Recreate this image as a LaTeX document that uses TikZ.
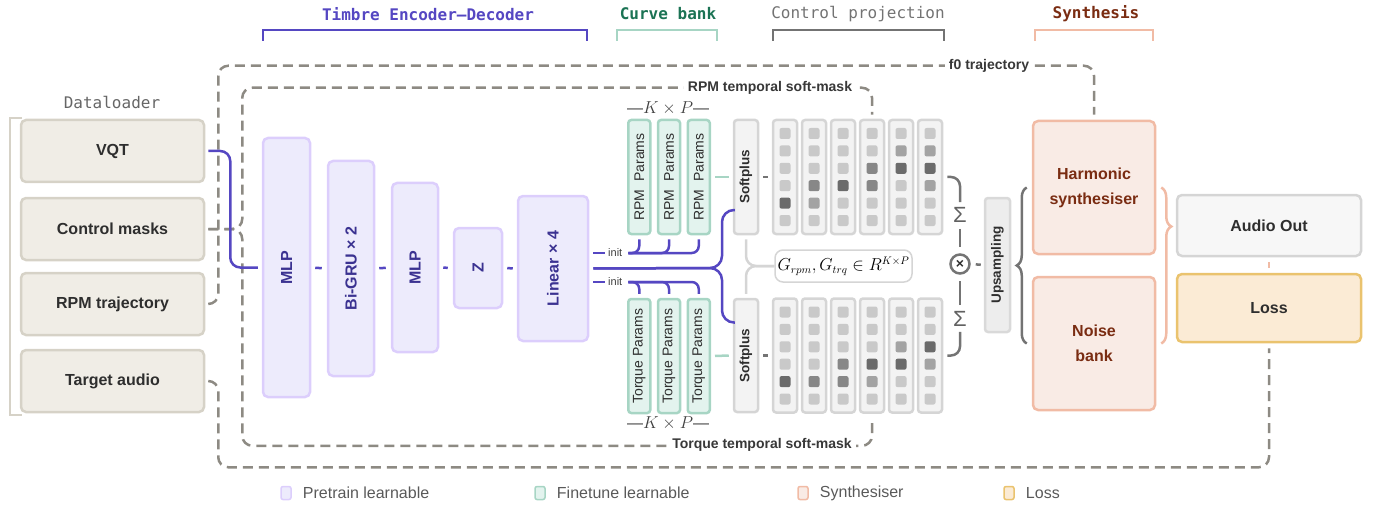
\documentclass[tikz,border=0pt]{standalone}
\usepackage{fontspec}
\setmainfont{Liberation Sans}
\setmonofont{DejaVu Sans Mono}
\usetikzlibrary{positioning,calc,decorations.pathreplacing}

\definecolor{dlfill}{HTML}{F0EDE6}
\definecolor{dldraw}{HTML}{D6D2C7}
\definecolor{pfill}{HTML}{EDEBFC}
\definecolor{pdraw}{HTML}{DCCEFC}
\definecolor{ptext}{HTML}{3B3291}
\definecolor{pcol}{HTML}{5547C2}
\definecolor{gfill}{HTML}{E3F3EE}
\definecolor{gdraw}{HTML}{A7D5C4}
\definecolor{gtext}{HTML}{1B7354}
\definecolor{cfill}{HTML}{F3F3F3}
\definecolor{cdraw}{HTML}{D5D5D5}
\definecolor{cdark}{HTML}{747474}
\definecolor{sfill}{HTML}{F9EBE5}
\definecolor{sdraw}{HTML}{F1BBA5}
\definecolor{stext}{HTML}{7A2C12}
\definecolor{lfill}{HTML}{FBEBD5}
\definecolor{ldraw}{HTML}{EAC36E}
\definecolor{dashgray}{HTML}{8D8A83}
\definecolor{txtdark}{HTML}{2E2E2E}
\colorlet{sq0}{black!21}
\colorlet{sq1}{black!36}
\colorlet{sq2}{black!47}
\colorlet{sq3}{black!58}

\newcommand\boxfont{\fontsize{16}{19}\selectfont\bfseries}
\newcommand\synfont{\fontsize{16}{25}\selectfont\bfseries}
\newcommand\parfont{\fontsize{14}{17}\selectfont}
\newcommand\spfont{\fontsize{13.5}{16}\selectfont\bfseries}
\newcommand\lblfont{\fontsize{14}{17}\selectfont\bfseries}
\newcommand\hdrfont{\fontsize{16}{19}\selectfont\ttfamily\bfseries}
\newcommand\legfont{\fontsize{16}{19}\selectfont}

\tikzset{
  blk/.style={draw, rounded corners=5pt, line width=2.5pt, inner sep=0pt},
  dlbox/.style={blk, fill=dlfill, draw=dldraw, minimum width=183pt, minimum height=62pt, font=\boxfont, text=txtdark},
  pbox/.style={blk, fill=pfill, draw=pdraw, label={[rotate=90, font=\boxfont, text=ptext]center:#1}},
  gbox/.style={blk, fill=gfill, draw=gdraw, rounded corners=3pt, minimum width=22pt, minimum height=114pt,
    label={[rotate=90, font=\parfont, text=txtdark]center:#1}},
  cbox/.style={blk, fill=cfill, draw=cdraw, rounded corners=3pt, minimum width=24pt, minimum height=114pt},
  spbox/.style={cbox, label={[rotate=90, font=\spfont, text=txtdark]center:#1}},
  sbox/.style={blk, fill=sfill, draw=sdraw, minimum width=122pt, minimum height=133pt, font=\synfont, text=stext, align=center},
  sumsign/.style={text=black!62, font=\fontsize{22}{22}\selectfont, inner sep=0pt},
  pline/.style={draw=pcol, line width=2.5pt},
  gline/.style={draw=gdraw, line width=2.5pt},
  cline/.style={draw=cdark, line width=2.5pt},
  lgline/.style={draw=cdraw, line width=2.5pt},
  dline/.style={draw=dashgray, line width=2.5pt, dash pattern=on 10pt off 6pt},
  dlabel/.style={fill=white, inner sep=4pt, font=\lblfont, text=black!78},
  brk/.style={line width=2.5pt},
  legbox/.style={draw, line width=1.5pt, rounded corners=2pt, minimum width=10pt, minimum height=13pt, inner sep=0pt},
  legtxt/.style={font=\legfont, text=black!65, inner sep=0pt}
}

\begin{document}
\begin{tikzpicture}[x=1pt, y=-1pt]
  \useasboundingbox (0,0) rectangle (1374,508);

  % headers
  \node[font=\hdrfont, text=pcol] (hte) at (428,14) {Timbre Encoder–Decoder};
  \node[font=\hdrfont, text=gtext] (hcb) at (668,14) {Curve bank};
  \node[font=\fontsize{16}{19}\selectfont\ttfamily, text=black!55] (hcp) at (858,14) {Control projection};
  \node[font=\hdrfont, text=stext] (hsy) at (1096,14) {Synthesis};
  \draw[brk, pcol] (263,41) -- (263,30) -- (587,30) -- (587,41);
  \draw[brk, gdraw] (617,41) -- (617,30) -- (717,30) -- (717,41);
  \draw[brk, black!55] (773,41) -- (773,30) -- (944,30) -- (944,41);
  \draw[brk, sdraw] (1035,41) -- (1035,30) -- (1153,30) -- (1153,41);

  % dataloader
  \node[font=\fontsize{16}{19}\selectfont\ttfamily, text=black!60] (dlhead) at (112,102) {Dataloader};
  \draw[brk, dldraw] (22,118) -- (10,118) -- (10,415) -- (22,415);
  \node[dlbox] (vqt) at (112.5,151) {VQT};
  \node[dlbox] (ctrlm) at (112.5,229) {Control masks};
  \node[dlbox] (rpmtraj) at (112.5,304) {RPM trajectory};
  \node[dlbox] (tgt) at (112.5,381) {Target audio};

  % encoder-decoder
  \node[pbox=MLP, minimum width=47pt, minimum height=259pt] (mlp1) at (286.5,267.5) {};
  \node[pbox={Bi-GRU × 2}, minimum width=46pt, minimum height=215pt] (bigru) at (351,268.5) {};
  \node[pbox=MLP, minimum width=46pt, minimum height=169pt] (mlp2) at (415,267.5) {};
  \node[pbox=Z, minimum width=48pt, minimum height=80pt] (zlat) at (478,268) {};
  \node[pbox={Linear × 4}, minimum width=70pt, minimum height=145pt] (lin) at (553,268.5) {};

  % curve bank
  \foreach \k in {1,2,3} {
    \node[gbox={RPM\ \ Params}] (rpm\k) at ({609.5+29.75*\k},177) {};
    \node[gbox={Torque Params}] (trq\k) at ({609.5+29.75*\k},356) {};
  }
  \node[font=\fontsize{16}{19}\selectfont, text=black!75] (kpu) at (668,108) {\textemdash$K\times P$\textemdash};
  \node[font=\fontsize{16}{19}\selectfont, text=black!75] (kpl) at (668,423) {\textemdash$K\times P$\textemdash};

  % control projection
  \node[spbox=Softplus] (sp1) at (746,177) {};
  \node[spbox=Softplus, minimum height=113pt] (sp2) at (746,355.5) {};
  \foreach \i in {1,...,6} {
    \node[cbox] (u\i) at ({756+29*\i},177) {};
    \node[cbox] (l\i) at ({756+29*\i},355.5) {};
  }
  \foreach \lst [count=\i] in {{0,0,0,0,3,0},{0,0,0,2,1,0},{0,0,0,3,0,0},{0,0,2,2,0,0},{0,1,3,0,0,0},{0,1,3,1,0,0}}
    \foreach \s [count=\j] in \lst
      \fill[sq\s, rounded corners=2pt] ($(u\i)+(-5.5,{17.4*\j-66.4})$) rectangle ++(11,11);
  \foreach \lst [count=\i] in {{0,0,0,0,3,0},{0,0,0,0,2,0},{0,0,0,2,2,0},{0,0,0,3,1,0},{0,0,1,3,0,0},{0,0,3,1,0,0}}
    \foreach \s [count=\j] in \lst
      \fill[sq\s, rounded corners=2pt] ($(l\i)+(-5.5,{17.4*\j-66.4})$) rectangle ++(11,11);
  \node[draw=cdraw, line width=1.5pt, rounded corners=8pt, fill=white, minimum width=137pt, minimum height=32pt,
    inner sep=0pt, font=\fontsize{16}{19}\selectfont] (gmat) at (843.5,266) {$G_{rpm}, G_{trq} \in R^{K\times P}$};
  \node[sumsign] (sumu) at (960,215) {Σ};
  \node[sumsign] (suml) at (960,319) {Σ};
  \node[circle, draw=cdark, line width=2.5pt, minimum size=19pt, inner sep=0pt,
    font=\fontsize{14}{14}\selectfont\bfseries, text=txtdark] (mul) at (960,264) {×};

  % synthesis
  \node[spbox=Upsampling, fill=black!7, draw=black!15, minimum width=25pt, minimum height=134pt] (ups) at (997.5,265) {};
  \node[sbox] (harm) at (1094,187.5) {Harmonic\\synthesiser};
  \node[sbox] (noise) at (1094,343.5) {Noise\\bank};
  \node[blk, fill=black!3, draw=cdraw, minimum width=184pt, minimum height=61pt, font=\boxfont, text=txtdark] (audio) at (1269,225.5) {Audio Out};
  \node[blk, fill=lfill, draw=ldraw, minimum width=184pt, minimum height=68pt, font=\boxfont, text=txtdark] (loss) at (1269,308) {Loss};

  % dashed routes
  \draw[dline, rounded corners=10pt, shorten <=3pt, shorten >=5pt] (rpmtraj.east) -- ++(13,0) |- ([yshift=54pt]harm.north) -- (harm.north);
  \draw[dline, rounded corners=10pt, shorten <=3pt, shorten >=5pt] (tgt.east) -- ++(13,0) |- ([yshift=-124pt]loss.south) -- (loss.south);
  \draw[dline, rounded corners=10pt, shorten <=3pt, shorten >=4pt] (ctrlm.east) -- ++(37,0) |- ([yshift=31pt]u4.north) -- (u4.north);
  \draw[dline, rounded corners=10pt, shorten <=3pt, shorten >=4pt] (ctrlm.east) -- ++(37,0) |- ([yshift=-32pt]l4.south) -- (l4.south);
  \node[dlabel] (f0lab) at (989,66) {f0 trajectory};
  \node[dlabel] (rpmlab) at (770,88) {RPM temporal soft-mask};
  \node[dlabel] (trqlab) at (762,445) {Torque temporal soft-mask};

  % encoder connectors
  \draw[pline, rounded corners=10pt, shorten <=3pt, shorten >=4pt] (vqt.east) -- ++(25,0) |- (mlp1.west);
  \draw[pline, shorten <=4pt, shorten >=5pt] (mlp1.east) -- (bigru.west);
  \draw[pline, shorten <=4pt, shorten >=5pt] (bigru.east) -- (mlp2.west);
  \draw[pline, shorten <=4pt, shorten >=5pt] (mlp2.east) -- (zlat.west);
  \draw[pline, shorten <=4pt, shorten >=4pt] (zlat.east) -- (lin.west);
  \coordinate (fork) at (722,268);
  \draw[pline, rounded corners=12pt, shorten <=4pt, shorten >=2pt] (lin.east) -- (fork) |- ([yshift=-33pt]sp1.west);
  \draw[pline, rounded corners=12pt, shorten <=4pt, shorten >=2pt] (lin.east) -- (fork) |- ([yshift=33pt]sp2.west);
  \node[font=\fontsize{11}{13}\selectfont, text=black!75, inner sep=1pt, anchor=west] (initu) at (607,253) {init};
  \node[font=\fontsize{11}{13}\selectfont, text=black!75, inner sep=1pt, anchor=west] (initl) at (607,282) {init};
  \draw[pline, shorten <=4pt, shorten >=2pt] (lin.east |- initu) -- (initu.west);
  \draw[pline, shorten <=4pt, shorten >=2pt] (lin.east |- initl) -- (initl.west);
  \foreach \k in {1,2,3} {
    \draw[pline, rounded corners=7pt, shorten <=5pt, shorten >=4pt] (initu.east) -| (rpm\k.south);
    \draw[pline, rounded corners=7pt, shorten <=5pt, shorten >=4pt] (initl.east) -| (trq\k.north);
  }

  % control connectors
  \draw[gline, shorten <=4pt, shorten >=4pt] (rpm3.east) -- (sp1.west);
  \draw[gline, shorten <=4pt, shorten >=4pt] (trq3.east) -- (sp2.west);
  \draw[cline, shorten <=4pt, shorten >=4pt] (sp1.east) -- (u1.west);
  \draw[cline, shorten <=4pt, shorten >=4pt] (sp2.east) -- (l1.west);
  \draw[lgline, rounded corners=10pt, shorten <=4pt] (sp1.south) |- (gmat.west);
  \draw[lgline, rounded corners=10pt, shorten <=4pt] (sp2.north) |- (gmat.west);
  \draw[cline, rounded corners=9pt, shorten <=4pt, shorten >=5pt] (u6.east) -| (sumu.north);
  \draw[cline, rounded corners=9pt, shorten <=4pt, shorten >=5pt] (l6.east) -| (suml.south);
  \draw[cline, shorten <=6pt, shorten >=6pt] (sumu.south) -- (mul.north);
  \draw[cline, shorten <=6pt, shorten >=6pt] (suml.north) -- (mul.south);
  \draw[cline, shorten <=5pt, shorten >=3pt] (mul.east) -- (ups.west);

  % synthesis connectors
  \draw[draw=black!55, line width=2.5pt, decorate, decoration={brace, amplitude=10pt}] ([xshift=-5pt]noise.west) -- ([xshift=-5pt]harm.west);
  \draw[draw=sdraw, line width=2.5pt, decorate, decoration={brace, amplitude=10pt, aspect=0.25}] ([xshift=5pt]harm.east) -- ([xshift=5pt]noise.east);
  \draw[draw=sdraw, line width=2.5pt, shorten <=5pt, shorten >=5pt] (audio.south) -- (loss.north);

  % legend
  \node[legbox, fill=pfill, draw=pdraw] (lg1) at (286,493) {};
  \node[legtxt, right=11pt of lg1] (lg1t) {Pretrain learnable};
  \node[legbox, fill=gfill, draw=gdraw] (lg2) at (540,493) {};
  \node[legtxt, right=11pt of lg2] (lg2t) {Finetune learnable};
  \node[legbox, fill=sfill, draw=sdraw] (lg3) at (803,493) {};
  \node[legtxt, right=11pt of lg3] (lg3t) {Synthesiser};
  \node[legbox, fill=lfill, draw=ldraw] (lg4) at (1009,493) {};
  \node[legtxt, right=11pt of lg4] (lg4t) {Loss};
\end{tikzpicture}
\end{document}
